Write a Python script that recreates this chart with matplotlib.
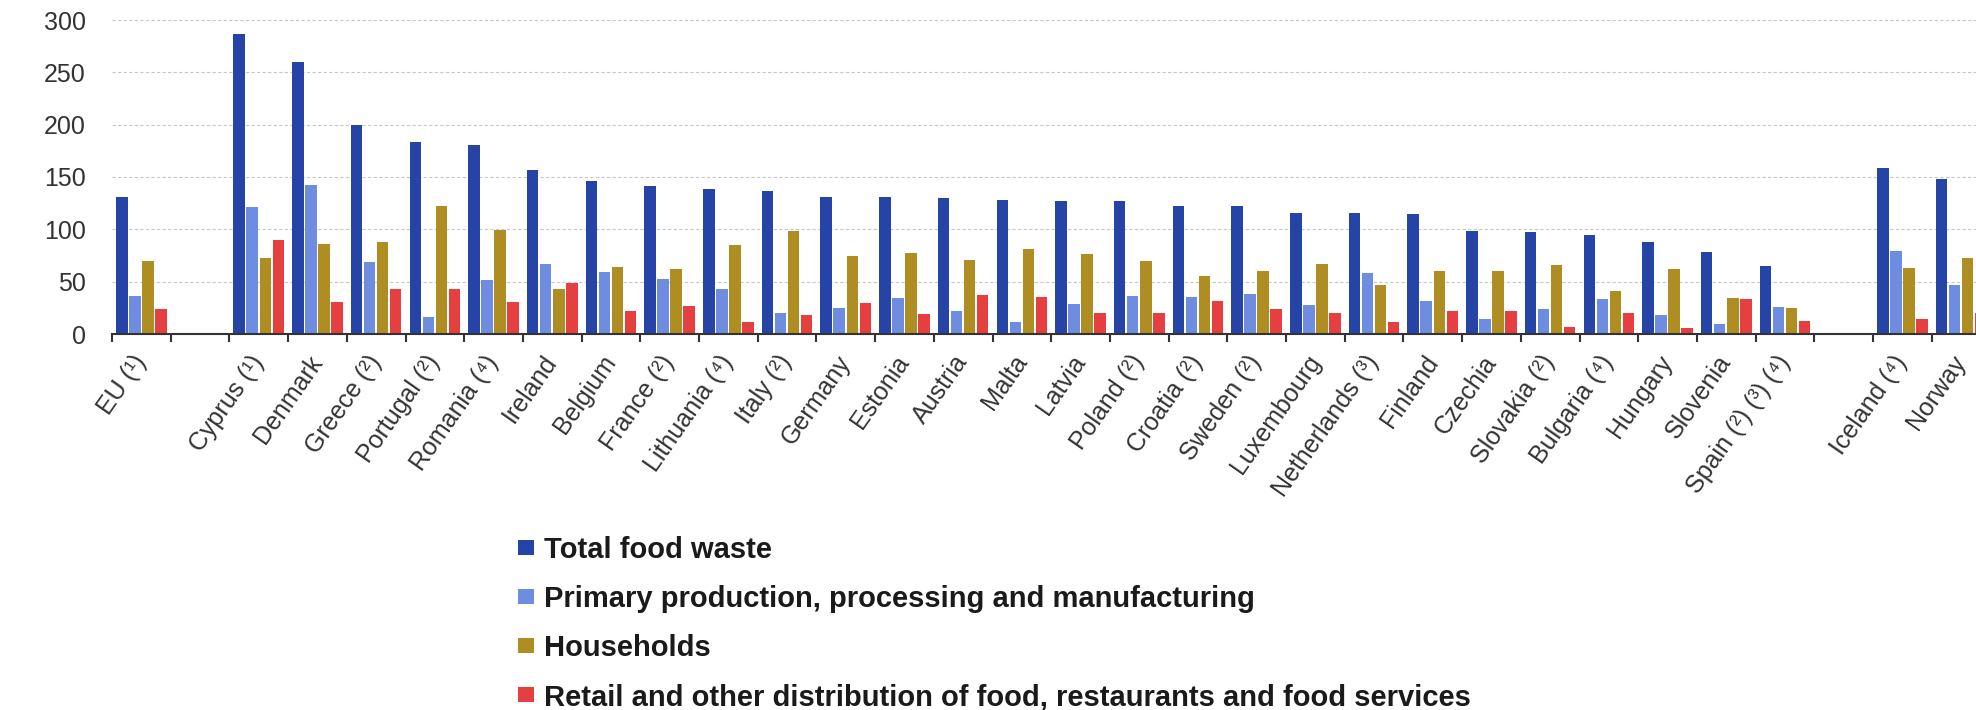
from matplotlib import pylab as plt
from matplotlib.patches import Patch
import numpy as np

# categories (EU, member states, EFTA)
labels = ["EU (¹)",
          "Cyprus (¹)", "Denmark", "Greece (²)", "Portugal (²)", "Romania (⁴)",
          "Ireland", "Belgium", "France (²)", "Lithuania (⁴)", "Italy (²)",
          "Germany", "Estonia", "Austria", "Malta", "Latvia", "Poland (²)",
          "Croatia (²)", "Sweden (²)", "Luxembourg", "Netherlands (³)",
          "Finland", "Czechia", "Slovakia (²)", "Bulgaria (⁴)", "Hungary",
          "Slovenia", "Spain (²) (³) (⁴)",
          "Iceland (⁴)", "Norway"]

total = [131, 287, 260, 200, 183, 181, 157, 146, 141, 139, 137, 131, 131, 130, 128,
         127, 127, 122, 122, 116, 116, 115, 98, 97, 95, 88, 78, 65, 159, 148]
primary = [36, 121, 142, 69, 16, 52, 67, 59, 53, 43, 20, 25, 34, 22, 11,
           29, 36, 35, 38, 28, 58, 32, 14, 24, 33, 18, 10, 26, 79, 47]
households = [70, 73, 86, 88, 122, 99, 43, 64, 62, 85, 98, 75, 77, 71, 81,
              76, 70, 55, 60, 67, 47, 60, 60, 66, 41, 62, 34, 25, 63, 73]
retail = [24, 90, 31, 43, 43, 31, 49, 22, 27, 11, 18, 30, 19, 37, 35,
          20, 20, 32, 24, 20, 11, 22, 22, 7, 20, 6, 33, 12, 14, 20]

series_names = ["Total food waste",
                "Primary production, processing and manufacturing",
                "Households",
                "Retail and other distribution of food, restaurants and food services"]
colors = ["#2644a6", "#6e8de0", "#ae8e22", "#e5403f"]

plt.rcParams['font.family'] = ['Liberation Sans', 'DejaVu Sans']

# slot positions: EU, gap, 27 countries, gap, Iceland + Norway
x = np.concatenate([[0], np.arange(2, 29), [30, 31]])
n_slots = 32

fig = plt.figure(figsize=(19.76, 7.10), dpi=100)
ax = fig.add_axes([112 / 1976, 1 - 334 / 710, (58.7 * n_slots) / 1976, 314 / 710])

pitch = 0.222
width = 0.196
data = [total, primary, households, retail]
for i in range(4):
    ax.bar(x + (i - 1.5) * pitch, data[i], width=width, color=colors[i],
           zorder=3, linewidth=0)

ax.set_xlim(-0.5, n_slots - 0.5)
ax.set_ylim(0, 300)
ax.set_yticks(np.arange(0, 301, 50))
ax.yaxis.grid(True, color='#c8c8c8', linestyle=(0, (3, 2)), linewidth=0.8, zorder=0)
ax.set_axisbelow(True)

for s in ['top', 'right', 'left']:
    ax.spines[s].set_visible(False)
ax.spines['bottom'].set_color('#333333')
ax.spines['bottom'].set_linewidth(1.5)
ax.spines['bottom'].set_zorder(4)

ax.tick_params(axis='y', length=0, pad=19, labelsize=18, labelcolor='#333333')

# labels at slot centres, tick marks at slot borders
ax.set_xticks(x)
ax.set_xticklabels(labels, rotation=55, ha='right', va='center',
                   rotation_mode='anchor', fontsize=18, color='#333333')
ax.tick_params(axis='x', which='major', length=0, pad=17)
ax.set_xticks(np.arange(-0.5, n_slots), minor=True)
ax.tick_params(axis='x', which='minor', length=6, width=1.5, color='#333333')

handles = [Patch(facecolor=c, edgecolor='none') for c in colors]
leg = fig.legend(handles, series_names, loc='upper left',
                 bbox_to_anchor=(518 / 1976, 1 - 536 / 710), frameon=False,
                 borderpad=0, borderaxespad=0, handlelength=0.55, handleheight=0.4,
                 handletextpad=0.35, labelspacing=0.72,
                 prop={'size': 21, 'weight': 'bold'})
for t in leg.get_texts():
    t.set_color('#1a1a1a')

plt.savefig('out.png', dpi=100)
